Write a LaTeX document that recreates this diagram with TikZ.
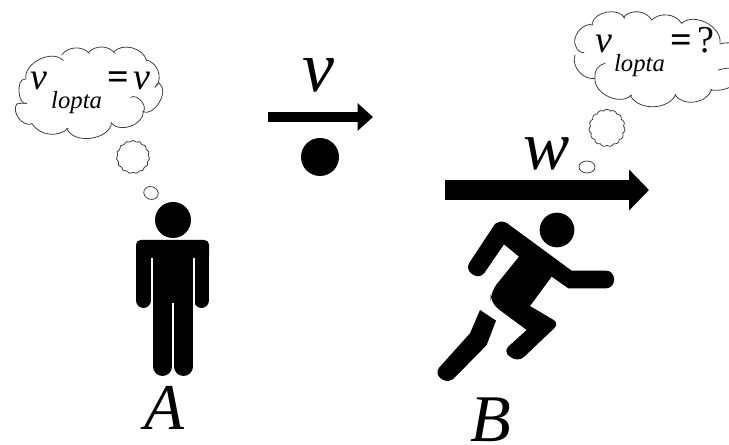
\documentclass[tikz,border=0pt]{standalone}
\usepackage{fontspec}
\setmainfont{Liberation Serif}
\usetikzlibrary{arrows.meta,shapes.symbols,shapes.geometric}

\newcommand{\lbl}[1]{\fontsize{#1}{#1}\selectfont\itshape}

\begin{document}
\begin{tikzpicture}[
        x=0.75pt, y=-0.75pt,
        bigletter/.style={inner sep=0pt, text=black},
        puff/.style={cloud, cloud puffs=15, cloud puff arc=110, aspect=1, draw=black!75, line width=0.6pt, inner sep=0pt},
        dotcloud/.style={ellipse, draw=black!75, line width=0.6pt, inner sep=0pt},
        bubble/.style={draw=black!75, line width=0.6pt, line cap=round},
        motion/.style={draw=black, -{Triangle[length=#1]}},
        silhouette/.style={fill=black, rounded corners=3.5pt},
]
        \useasboundingbox (0,0) rectangle (729,445);

        % thought of A
        \begin{scope}[shift={(0,30)}, x=0.25pt, y=-0.25pt]
                \draw[bubble] (78,148) to[bend left=75] (190,92);
                \draw[bubble] (185,75) to[bend left=50] (268,70);
                \draw[bubble] (265,68) to[bend left=50] (345,70);
                \draw[bubble] (340,66) to[bend left=60] (440,92);
                \draw[bubble] (440,90) to[bend left=55] (470,168);
                \draw[bubble] (465,172) to[bend left=25] (478,160) to[bend left=85] (428,245);
                \draw[bubble] (392,202) to[bend left=80] (430,245) to[bend left=70] (335,280);
                \draw[bubble] (335,278) to[bend left=75] (200,295);
                \draw[bubble] (205,295) to[bend left=50] (95,280);
                \draw[bubble] (95,282) to[bend left=70] (50,222) to[bend left=10] (80,220);
                \draw[bubble] (80,220) to[bend left=105] (75,148);
        \end{scope}
        \node[bigletter, anchor=base west] (thoughta) at (30,90) {\lbl{28.5}v\raisebox{-14pt}{\lbl{18.5}\,lopta}\kern4pt\upshape\bfseries=\kern3.5pt\mdseries\itshape v};
        \node[puff, minimum width=25pt, minimum height=25pt] (puffa) at (133,157) {};
        \node[dotcloud, minimum width=11pt, minimum height=9.5pt, rotate=-20] (dota) at (151,193) {};

        % thought of B
        \begin{scope}[shift={(540,0)}, x=0.25pt, y=-0.25pt]
                \draw[bubble] (132,158) to[bend left=35] (108,140) to[bend left=70] (160,75);
                \draw[bubble] (156,72) to[bend left=70] (255,55);
                \draw[bubble] (250,52) to[bend left=55] (335,60);
                \draw[bubble] (335,60) to[bend left=50] (425,70);
                \draw[bubble] (425,70) to[bend left=70] (540,130);
                \draw[bubble] (540,132) to[bend left=20] (590,135);
                \draw[bubble] (535,210) to[bend left=10] (590,205);
                \draw[bubble] (590,250) to[bend left=20] (510,270);
                \draw[bubble] (515,268) to[bend left=65] (405,285);
                \draw[bubble] (408,282) to[bend left=65] (270,285);
                \draw[bubble] (275,285) to[bend left=70] (165,235) to[bend left=45] (195,190);
                \draw[bubble] (165,235) to[bend left=60] (105,165);
        \end{scope}
        \node[bigletter, anchor=base west] (thoughtb) at (595,53) {\lbl{28.5}v\raisebox{-14pt}{\lbl{18.5}\kern1.5pt lopta}\kern4pt\upshape\bfseries=\kern4.5pt\mdseries ?};
        \node[puff, minimum width=27pt, minimum height=28pt] (puffb) at (607,128) {};
        \node[dotcloud, minimum width=12pt, minimum height=9pt] (dotb) at (587,167) {};

        % ball and its speed
        \node[bigletter, anchor=base] (speedv) at (318,92) {\lbl{54}v};
        \coordinate (vtail) at (268,117);
        \coordinate (vhead) at (373,117);
        \draw[motion=11.5pt, line width=8pt, arrows={-{Triangle[length=11.5pt,width=20pt]}}] (vtail) -- (vhead);
        \node[circle, fill=black, minimum size=28.5pt, inner sep=0pt] (ball) at (320,157) {};

        % runner speed
        \node[bigletter, anchor=base] (speedw) at (547,170) {\lbl{52}w};
        \coordinate (wtail) at (445,190);
        \coordinate (whead) at (649,190);
        \draw[motion=15pt, line width=15.5pt, arrows={-{Triangle[length=15pt,width=30pt]}}] (wtail) -- (whead);

        % person A
        \node[circle, fill=black, minimum size=27pt, inner sep=0pt] (heada) at (173,220) {};
        \fill[silhouette] (136,240) -- (209,240) -- (209,262) -- (136,262) -- cycle;
        \fill (153,250) rectangle (193,310);
        \draw[line width=11.2pt, line cap=round] (143.5,250) -- (143.5,300.5);
        \draw[line width=11.2pt, line cap=round] (201.5,250) -- (201.5,300.5);
        \draw[line width=14.2pt, line cap=round] (162.5,300) -- (162.5,366.5);
        \draw[line width=14.2pt, line cap=round] (183.5,300) -- (183.5,366.5);
        \fill[white] (151,258) rectangle (153,320);
        \fill[white] (193,258) rectangle (195,320);
        \fill[white] (172.2,303) rectangle (173.8,376);
        \node[bigletter, anchor=base] (namea) at (164,430) {\lbl{49}A};

        % person B
        \node[circle, fill=black, minimum size=26pt, inner sep=0pt] (headb) at (557,230) {};
        \begin{scope}[shift={(420,200)}, x=0.25pt, y=-0.25pt]
                \fill (225,72) [rounded corners=4pt] -- (248,60) [sharp corners] -- (455,212) [rounded corners=6pt] -- (582,212) -- (582,265)
                        [sharp corners] -- (445,265) -- (395,230) -- (330,318) [rounded corners=5pt] -- (418,370) [rounded corners=6pt] -- (295,487)
                        -- (248,455) [sharp corners] -- (320,390) [rounded corners=7pt] -- (212,310) -- (212,275)
                        [sharp corners] -- (297,170) -- (252,133) [rounded corners=6pt] -- (180,238) -- (135,208) [sharp corners] -- cycle;
                \fill (180,330) -- (228,362) -- (200,435) [rounded corners=6pt] -- (85,552) -- (42,520) [sharp corners] -- (150,400) -- cycle;
        \end{scope}
        \node[bigletter, anchor=base] (nameb) at (491,441) {\lbl{50}B};
\end{tikzpicture}
\end{document}
